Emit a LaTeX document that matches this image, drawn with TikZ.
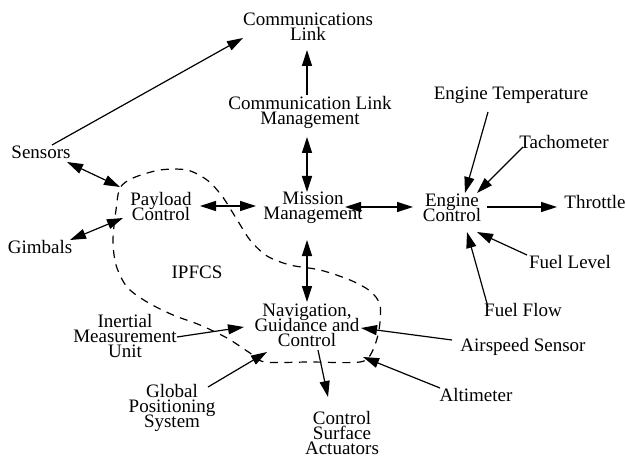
\documentclass[tikz,border=0pt]{standalone}
\usepackage{fontspec}
\setmainfont{Liberation Serif}
\usetikzlibrary{arrows.meta}
% tight leading for the stacked labels
\lineskiplimit=-30pt
\begin{document}
\begin{tikzpicture}[x=1pt,y=-1pt,
  lbl/.style={inner sep=0pt, align=center,
    font=\fontsize{19}{15}\selectfont},
  arr/.style={line width=1.2pt, -{Triangle[length=16pt,width=10pt]}},
  darr/.style={line width=1.2pt,
    {Triangle[length=16pt,width=10pt]}-{Triangle[length=16pt,width=10pt]}},
  bound/.style={line width=1.2pt, dash pattern=on 8pt off 6.5pt}]
\useasboundingbox (0,0) rectangle (626,457);

% IPFCS boundary
\draw[bound] plot[smooth cycle] coordinates {
  (120,188) (133,178) (160,170) (187,170) (207,180) (222,196) (236,218)
  (250,240) (267,256) (290,265) (320,270) (350,280) (370,291) (380,305)
  (379,330) (372,352) (360,362) (310,362) (265,362) (250,353) (227,338)
  (200,325) (173,315) (147,302) (127,287) (116,265) (113,240) (116,210)};

% subsystems and devices
\node[lbl] (cl)    at (308,27)  {Communications\\Link};
\node[lbl] (clm)   at (310,112) {Communication Link\\Management};
\node[lbl] (sens)  at (41,152)  {Sensors};
\node[lbl] (pc)    at (161,207) {Payload\\Control};
\node[lbl] (mm)    at (313,208) {Mission\\Management};
\node[lbl] (ec)    at (452,208) {Engine\\Control};
\node[lbl] (et)    at (511,95)  {Engine Temperature};
\node[lbl] (tach)  at (564,142) {Tachometer};
\node[lbl] (thr)   at (595,202) {Throttle};
\node[lbl] (fl)    at (570,262) {Fuel Level};
\node[lbl] (ff)    at (523,310) {Fuel Flow};
\node[lbl] (gim)   at (40,247)  {Gimbals};
\node[lbl] (ipfcs) at (197,272) {IPFCS};
\node[lbl] (ngc)   at (307,325) {Navigation,\\Guidance and\\Control};
\node[lbl] (imu)   at (125,336) {Inertial\\Measurement\\Unit};
\node[lbl] (as)    at (523,347) {Airspeed Sensor};
\node[lbl] (gps)   at (172,408) {Global\\Positioning\\System};
\node[lbl] (alt)   at (476,395) {Altimeter};
\node[lbl] (csa)   at (342,433) {Control\\Surface\\Actuators};

% data flows
\draw[arr]  ([shift={(11,-7)}]sens.center) -- ([shift={(-65,11)}]cl.center);
\draw[arr]  ([shift={(-3,-17)}]clm.center) -- ([shift={(-1,23)}]cl.center);
\draw[darr] ([shift={(-3,25)}]clm.center) -- ([shift={(-6,-16)}]mm.center);
\draw[darr] ([shift={(39,-1)}]pc.center) -- ([shift={(-57,-2)}]mm.center);
\draw[darr] ([shift={(32,-1)}]mm.center) -- ([shift={(-39,-1)}]ec.center);
\draw[arr]  ([shift={(35,-1)}]ec.center) -- ([shift={(-38,5)}]thr.center);
\draw[arr]  ([shift={(-23,17)}]et.center) -- ([shift={(13,-15)}]ec.center);
\draw[arr]  ([shift={(-41,5)}]tach.center) -- ([shift={(25,-15)}]ec.center);
\draw[arr]  ([shift={(-43,-7)}]fl.center) -- ([shift={(25,24)}]ec.center);
\draw[arr]  ([shift={(-35,-3)}]ff.center) -- ([shift={(15,24)}]ec.center);
\draw[darr] ([shift={(26,10)}]sens.center) -- ([shift={(-41,-20)}]pc.center);
\draw[darr] ([shift={(30,-7)}]gim.center) -- ([shift={(-38,11)}]pc.center);
\draw[darr] ([shift={(-6,32)}]mm.center) -- ([shift={(0,-23)}]ngc.center);
\draw[arr]  ([shift={(52,1)}]imu.center) -- ([shift={(-63,2)}]ngc.center);
\draw[arr]  ([shift={(36,-21)}]gps.center) -- ([shift={(-40,27)}]ngc.center);
\draw[arr]  ([shift={(11,25)}]ngc.center) -- ([shift={(-14,-36)}]csa.center);
\draw[arr]  ([shift={(-71,-7)}]as.center) -- ([shift={(54,3)}]ngc.center);
\draw[arr]  ([shift={(-36,-7)}]alt.center) -- ([shift={(56,32)}]ngc.center);
\end{tikzpicture}
\end{document}
